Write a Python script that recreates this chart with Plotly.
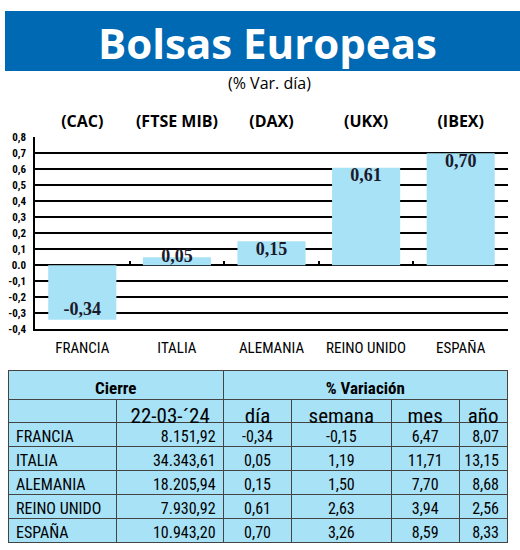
import plotly.graph_objects as go

# ---------------- data ----------------
countries = ["FRANCIA", "ITALIA", "ALEMANIA", "REINO UNIDO", "ESPAÑA"]
indices = ["(CAC)", "(FTSE MIB)", "(DAX)", "(UKX)", "(IBEX)"]
var_dia = [-0.34, 0.05, 0.15, 0.61, 0.70]
cierre = ["8.151,92", "34.343,61", "18.205,94", "7.930,92", "10.943,20"]
var_semana = [-0.15, 1.19, 1.50, 2.63, 3.26]
var_mes = [6.47, 11.71, 7.70, 3.94, 8.59]
var_anio = [8.07, 13.15, 8.68, 2.56, 8.33]
y_tickvals = [0.8, 0.7, 0.6, 0.5, 0.4, 0.3, 0.2, 0.1, 0.0, -0.1, -0.2, -0.3, -0.4]
y_ticktext = ["0,8", "0,7", "0,6", "0,5", "0,4", "0,3", "0,2", "0,1", "0.0",
              "-0,1", "-0,2", "-0,3", "-0,4"]
table_header_top = ["Cierre", "% Variación"]
table_header = ["", "22-03-´24", "día", "semana", "mes", "año"]

# ---------------- styling ----------------
W, H = 520, 550
BLUE = "#0069b4"
LIGHT = "#a8e2f7"
NARROW = "Liberation Sans Narrow, Arial Narrow, Roboto Condensed, Roboto, sans-serif"
SANS = "Open Sans, Noto Sans, sans-serif"
SERIF = "Liberation Serif, DejaVu Serif, serif"


def px_x(x):
    return x / W


def px_y(y):
    return 1 - y / H


def fmt(v):
    return f"{v:.2f}".replace(".", ",")


plot_x0, plot_x1 = 35, 508
plot_top, plot_bot = 137.3, 329.3
zero_px = 265.3

label_pos = []
for v in var_dia:
    if v < 0:
        label_pos.append("top center")
    elif v < 0.1:
        label_pos.append("middle center")
    else:
        label_pos.append("bottom center")

fig = go.Figure()

fig.add_trace(go.Bar(
    x=countries, y=var_dia,
    marker=dict(color=LIGHT, line=dict(width=0)),
    width=0.72, hoverinfo="skip", showlegend=False,
))

fig.add_trace(go.Scatter(
    x=countries, y=var_dia, xaxis="x2", yaxis="y",
    mode="text", text=[fmt(v) for v in var_dia],
    textposition=label_pos,
    textfont=dict(family=SERIF, size=18, color="#1a1a2a", weight="bold"),
    hoverinfo="skip", showlegend=False,
))

boundaries = [i + 0.5 for i in range(len(countries))]
fig.add_trace(go.Scatter(
    x=boundaries, y=[0] * len(boundaries), xaxis="x3", yaxis="y",
    mode="markers", marker=dict(opacity=0), hoverinfo="skip", showlegend=False,
))

# top header row (merged headings); its dummy body row is hidden under the main table
fig.add_trace(go.Table(
    domain=dict(x=[px_x(8), px_x(508)], y=[px_y(430), px_y(370)]),
    columnwidth=[216, 284],
    header=dict(values=[f"<b>{t}</b>" for t in table_header_top], height=29,
                fill_color=LIGHT, line=dict(color="#444", width=1), align="center",
                font=dict(family=NARROW, size=17, color="black")),
    cells=dict(values=[[""], [""]], height=20, fill_color=LIGHT,
               line=dict(color="#444", width=1)),
))

fig.add_trace(go.Table(
    domain=dict(x=[px_x(8), px_x(508)], y=[0, px_y(399)]),
    columnwidth=[109, 107, 68, 100, 68, 48],
    header=dict(values=table_header, height=23, fill_color=LIGHT,
                line=dict(color="#444", width=1), align="center",
                font=dict(family=NARROW, size=21, color="black")),
    cells=dict(values=[countries, cierre,
                       [fmt(v) for v in var_dia], [fmt(v) for v in var_semana],
                       [fmt(v) for v in var_mes], [fmt(v) for v in var_anio]],
               height=24, fill_color=LIGHT, line=dict(color="#444", width=1),
               align=["left", "right", "center", "center", "center", "right"],
               font=dict(family=NARROW, size=16, color="black")),
))

cat_range = [-0.5, len(countries) - 0.5]
xdom = [px_x(plot_x0), px_x(plot_x1)]
ydom = [px_y(plot_bot), px_y(plot_top)]

fig.update_layout(
    template="none",
    width=W, height=H,
    margin=dict(l=0, r=0, t=0, b=0, pad=0),
    paper_bgcolor="white", plot_bgcolor="white",
    bargap=0.28,
    xaxis=dict(domain=xdom, range=cat_range, anchor="y", type="category",
               showline=True, linecolor="black", linewidth=1.5, showgrid=False,
               ticks="outside", ticklen=4, tickcolor="rgba(0,0,0,0)",
               tickfont=dict(family=NARROW, size=15, color="black"),
               automargin=False, fixedrange=True),
    xaxis2=dict(domain=xdom, range=cat_range, overlaying="x", anchor="y", side="top",
                type="category", tickvals=countries, ticktext=indices,
                showline=False, showgrid=False, ticks="outside", ticklen=3,
                tickcolor="rgba(0,0,0,0)",
                tickfont=dict(family=SANS, size=16, color="black", weight="bold"),
                automargin=False, fixedrange=True),
    xaxis3=dict(domain=xdom, range=cat_range, overlaying="x", anchor="free",
                position=px_y(zero_px), side="bottom", type="linear",
                tickvals=boundaries, ticks="inside", ticklen=4, tickwidth=1.5,
                tickcolor="black", showticklabels=False, showline=False,
                showgrid=False, zeroline=False, automargin=False, fixedrange=True),
    yaxis=dict(domain=ydom, range=[-0.4, 0.8], anchor="x",
               tickvals=y_tickvals, ticktext=y_ticktext,
               showline=True, linecolor="black", linewidth=1.5,
               showgrid=True, gridcolor="black", gridwidth=1.5,
               zeroline=True, zerolinecolor="black", zerolinewidth=1.5,
               ticks="outside", ticklen=5, tickcolor="rgba(0,0,0,0)",
               tickfont=dict(family=NARROW, size=11, color="black", weight="bold"),
               automargin=False, fixedrange=True),
    shapes=[dict(type="rect", xref="paper", yref="paper",
                 x0=px_x(5), x1=1, y0=px_y(71), y1=px_y(11),
                 fillcolor=BLUE, line=dict(width=0), layer="below")],
    annotations=[
        dict(text="<b>Bolsas Europeas</b>", xref="paper", yref="paper",
             x=px_x(267), y=px_y(42), xanchor="center", yanchor="middle",
             showarrow=False, font=dict(family=SANS, size=42, color="white")),
        dict(text="(% Var. día)", xref="paper", yref="paper",
             x=px_x(269), y=px_y(83), xanchor="center", yanchor="middle",
             showarrow=False, font=dict(family=SANS, size=16, color="black")),
    ],
)

fig.write_html("out.html", config={"displayModeBar": False},
               post_script="document.body.style.margin='0px';")
